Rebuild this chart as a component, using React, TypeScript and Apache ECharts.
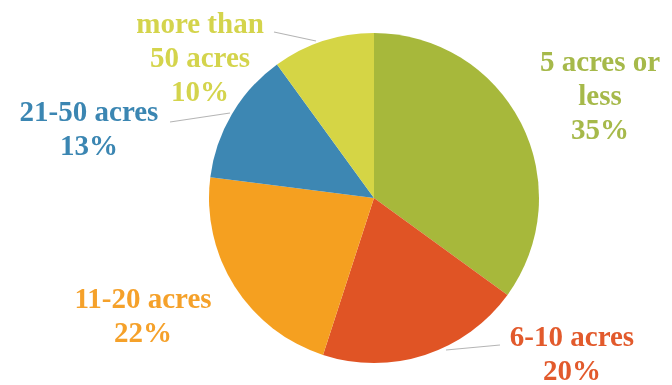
import React, { useEffect, useRef } from "react";
import * as echarts from "echarts";

const categories = ["5 acres or\nless", "6-10 acres", "11-20 acres", "21-50 acres", "more than\n50 acres"];
const values = [35, 20, 22, 13, 10];
const colors = ["#a7b83b", "#e05425", "#f5a020", "#3d87b3", "#d5d545"];
const labelColors = ["#a6b94a", "#e25a2c", "#f5a12a", "#3b86b2", "#d4d44c"];

// label anchor positions (center of text block) and leader lines
const labelPos: [number, number][] = [
  [600, 95],
  [572, 353],
  [143, 315],
  [89, 128],
  [200, 57],
];
const leaders: ([number, number][] | null)[] = [
  null,
  [[446, 350], [500, 345]],
  null,
  [[230, 113], [170, 122]],
  [[316, 41], [274, 32]],
];

const FONT = "'Liberation Serif', 'Times New Roman', serif";

export default function App() {
  const ref = useRef<HTMLDivElement>(null);
  useEffect(() => {
    if (!ref.current) return;
    const chart = echarts.init(ref.current, null, { renderer: "svg" });
    chart.setOption({
      animation: false,
      color: colors,
      series: [
        {
          type: "pie",
          center: [374, 198],
          radius: 165,
          data: categories.map((c, i) => ({
            name: c,
            value: values[i],
            label: {
              rich: {
                t: {
                  color: labelColors[i],
                  fontFamily: FONT,
                  fontWeight: "bold",
                  fontSize: 29,
                  lineHeight: 34,
                  align: "center",
                },
              },
            },
            labelLine: {
              show: leaders[i] !== null,
              lineStyle: { color: "#b5b5b5", width: 1.2 },
            },
          })),
          label: {
            show: true,
            position: "outside",
            formatter: (p: any) =>
              String(p.name)
                .split("\n")
                .concat([p.value + "%"])
                .map((s: string) => "{t|" + s + "}")
                .join("\n"),
            fontFamily: FONT,
            fontWeight: "bold",
            fontSize: 29,
            lineHeight: 34,
            align: "center",
            overflow: "none",
          },
          emphasis: { disabled: true },
          labelLayout: (params: any) => {
            const i = params.dataIndex;
            const res: any = {
              x: labelPos[i][0],
              y: labelPos[i][1],
              align: "center",
              verticalAlign: "middle",
            };
            if (leaders[i]) res.labelLinePoints = leaders[i];
            return res;
          },
        },
      ],
    });
    return () => chart.dispose();
  }, []);
  return (
    <div
      ref={ref}
      style={{ position: "fixed", left: 0, top: 0, width: 672, height: 385 }}
    />
  );
}
